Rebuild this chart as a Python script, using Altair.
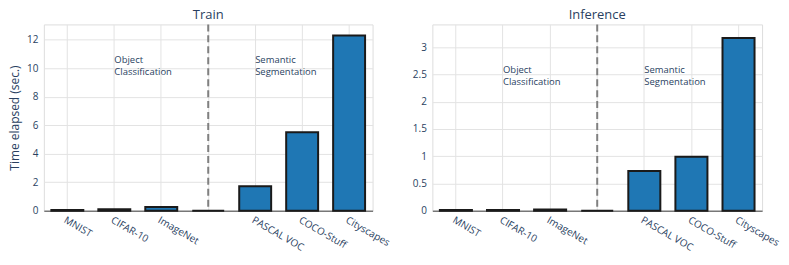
import altair as alt
import pandas as pd

categories = ["MNIST", "CIFAR-10", "ImageNet", " ", "PASCAL VOC", "COCO-Stuff", "Cityscapes"]
train_times = [0.05, 0.1, 0.26, 0.0, 1.72, 5.5, 12.3]
infer_times = [0.012, 0.015, 0.02, 0.0, 0.73, 0.99, 3.17]

ann_labels = ["Object\nClassification", "Semantic\nSegmentation"]
ann_cats = ["CIFAR-10", "PASCAL VOC"]
ann_y_train = [10.95, 10.95]
ann_y_infer = [2.68, 2.68]

separator = " "
TXT = "#2a3f5f"
FONT = "Open Sans"

W1, W2, H = 330, 331, 187


def panel(values, ann_y, title, ymax, ticks, ytitle, w):
    df = pd.DataFrame({"cat": categories, "val": values})
    xscale = alt.Scale(domain=categories, paddingInner=0.32, paddingOuter=0.16)
    xaxis = alt.Axis(title=None, labelAngle=30, labelAlign="left", labelBaseline="top",
                     labelPadding=4, ticks=False, bandPosition=0.5, grid=True,
                     gridColor="#e3e3e3", domainColor="#444", labelColor=TXT,
                     labelFontSize=10, labelFont=FONT, labelOverlap=False)
    yscale = alt.Scale(domain=[0, ymax], nice=False, zero=True)
    yaxis = alt.Axis(values=ticks, format="~g", title=ytitle, ticks=False,
                     labelPadding=6, gridColor="#e3e3e3", domain=False,
                     labelColor=TXT, labelFontSize=10, labelFont=FONT, labelOverlap=False,
                     titleColor=TXT, titleFontSize=12, titleFontWeight="normal",
                     titleFont=FONT, titlePadding=5)
    bars = alt.Chart(df).mark_bar(color="#1f77b4", stroke="#1a1a1a", strokeWidth=2).encode(
        x=alt.X("cat:N", sort=categories, scale=xscale, axis=xaxis),
        y=alt.Y("val:Q", scale=yscale, axis=yaxis))
    rule = alt.Chart(pd.DataFrame({"cat": [separator]})).mark_rule(
        color="#808080", strokeWidth=2, strokeDash=[7, 4]).encode(
        x=alt.X("cat:N", sort=categories, scale=xscale, axis=xaxis))
    adf = pd.DataFrame({"cat": ann_cats, "y": ann_y, "t": ann_labels})
    text = alt.Chart(adf).mark_text(align="left", baseline="top", lineBreak="\n",
                                    fontSize=9.5, font=FONT, color=TXT, lineHeight=12).encode(
        x=alt.X("cat:N", sort=categories, scale=xscale, axis=xaxis),
        y=alt.Y("y:Q", scale=yscale, axis=yaxis), text="t:N")
    return alt.layer(bars, rule, text).properties(
        width=w, height=H,
        title=alt.TitleParams(title, fontSize=13, font=FONT, color=TXT, fontWeight="normal",
                              offset=1))


left = panel(train_times, ann_y_train, "Train", 13.08, [0, 2, 4, 6, 8, 10, 12],
             "Time elapsed (sec.)", W1)
right = panel(infer_times, ann_y_infer, "Inference", 3.42, [0, 0.5, 1, 1.5, 2, 2.5, 3],
              None, W2)

chart = alt.hconcat(left, right, spacing=20).properties(
    padding={"left": 0, "top": 0, "right": 0, "bottom": 0}
).configure_view(stroke="#444", strokeWidth=1).configure(background="white")

chart.save("out.html", embed_options={"renderer": "svg", "actions": False})
